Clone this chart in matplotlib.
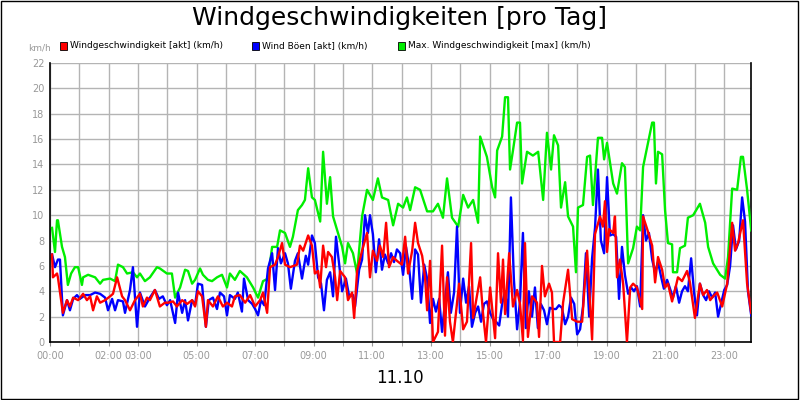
import matplotlib
matplotlib.use("Agg")
import matplotlib.pyplot as plt
from matplotlib.patches import Rectangle

g_t = [0.07,0.17,0.24,0.27,0.41,0.51,0.61,0.72,0.85,0.96,1.09,1.13,1.30,1.54,1.71,1.81,2.05,2.22,2.32,2.49,2.63,2.83,2.97,3.07,3.24,3.41,3.65,3.75,3.99,4.16,4.27,4.44,4.61,4.71,4.85,4.95,5.12,5.22,5.39,5.53,5.70,5.87,6.04,6.14,6.31,6.48,6.72,6.93,7.10,7.27,7.44,7.58,7.75,7.85,8.02,8.19,8.29,8.46,8.60,8.70,8.81,8.94,9.04,9.22,9.32,9.45,9.56,9.66,9.83,9.97,10.07,10.17,10.34,10.48,10.65,10.82,11.02,11.19,11.33,11.54,11.71,11.88,12.05,12.18,12.29,12.46,12.63,12.87,13.07,13.24,13.41,13.55,13.72,13.93,14.10,14.27,14.44,14.61,14.68,14.91,15.09,15.19,15.26,15.43,15.53,15.63,15.70,15.80,15.94,16.04,16.11,16.28,16.48,16.66,16.83,16.96,17.10,17.20,17.34,17.44,17.58,17.68,17.85,17.95,18.02,18.19,18.33,18.43,18.53,18.70,18.84,18.91,19.01,19.22,19.35,19.52,19.62,19.73,19.90,20.03,20.14,20.24,20.38,20.55,20.61,20.68,20.75,20.89,20.99,21.09,21.23,21.26,21.40,21.50,21.67,21.77,21.95,22.18,22.36,22.46,22.63,22.87,23.04,23.14,23.28,23.45,23.58,23.65,23.79,23.93]
g_v = [9.0,7.1,9.6,9.6,7.5,6.7,4.5,5.4,5.9,5.9,4.5,5.1,5.3,5.1,4.6,4.9,5.0,4.8,6.1,5.9,5.4,5.5,5.1,5.4,4.8,5.1,5.9,5.8,5.4,5.4,3.5,4.3,5.7,5.6,4.6,4.9,5.8,5.3,4.9,4.8,5.1,5.3,4.3,5.4,4.9,5.6,5.1,4.3,3.5,4.8,5.0,7.5,7.5,8.8,8.6,7.5,8.3,10.4,10.8,11.2,13.7,11.4,11.2,9.5,15.0,10.9,13.0,9.9,8.6,7.5,6.2,7.8,7.0,5.4,9.9,12.0,11.2,12.9,11.4,11.2,9.2,10.9,10.6,11.4,10.4,12.2,12.0,10.3,10.3,10.9,9.8,12.9,9.8,9.1,11.6,10.6,11.2,9.4,16.2,14.6,12.2,11.4,15.1,16.2,19.3,19.3,13.6,15.1,17.3,17.3,12.5,15.0,14.7,15.0,11.2,16.5,13.6,16.3,15.5,10.6,12.6,9.9,9.1,5.5,10.6,10.8,14.6,14.7,10.8,16.1,16.1,14.4,15.7,12.5,11.7,14.1,13.8,6.2,7.4,9.1,8.8,13.8,15.4,17.3,17.3,12.5,15.0,14.8,10.4,7.8,7.7,5.5,5.5,7.4,7.6,9.8,10.0,10.9,9.4,7.5,6.2,5.3,5.0,6.7,12.1,12.0,14.6,14.6,12.0,8.8]

r_t = [0.07,0.10,0.24,0.27,0.44,0.58,0.68,0.79,0.96,1.13,1.26,1.37,1.47,1.60,1.71,1.88,2.05,2.15,2.29,2.46,2.56,2.73,2.90,3.07,3.17,3.31,3.41,3.58,3.75,3.92,4.03,4.20,4.33,4.51,4.68,4.85,4.95,5.05,5.19,5.32,5.39,5.56,5.73,5.90,6.04,6.21,6.31,6.48,6.66,6.83,7.00,7.17,7.27,7.41,7.51,7.68,7.78,7.92,8.02,8.19,8.43,8.53,8.64,8.81,8.94,9.04,9.15,9.22,9.32,9.42,9.49,9.62,9.73,9.80,9.90,10.07,10.17,10.31,10.38,10.48,10.65,10.82,10.92,11.02,11.16,11.26,11.37,11.47,11.57,11.71,11.84,12.01,12.12,12.22,12.36,12.46,12.56,12.70,12.80,12.87,12.97,13.07,13.24,13.38,13.48,13.55,13.65,13.75,13.96,14.10,14.23,14.37,14.44,14.68,14.78,14.88,15.02,15.19,15.29,15.39,15.46,15.53,15.67,15.80,15.94,16.04,16.14,16.21,16.31,16.45,16.62,16.69,16.79,16.89,17.03,17.13,17.20,17.41,17.51,17.68,17.82,17.99,18.16,18.33,18.50,18.60,18.77,18.87,18.94,19.01,19.08,19.22,19.28,19.35,19.45,19.56,19.69,19.80,19.90,20.03,20.21,20.24,20.38,20.55,20.65,20.75,20.89,20.99,21.09,21.23,21.33,21.43,21.57,21.74,21.84,22.01,22.18,22.29,22.42,22.53,22.63,22.77,22.94,23.11,23.28,23.38,23.48,23.65,23.79,23.93]
r_v = [6.9,5.1,5.4,5.1,2.3,3.3,2.8,3.5,3.3,3.8,3.3,3.6,2.5,3.6,3.1,3.3,3.6,3.8,5.1,3.6,3.3,2.5,3.3,3.8,2.8,3.5,3.3,4.1,2.8,3.1,3.1,3.2,2.8,3.3,3.0,3.3,2.8,4.0,3.6,1.2,3.3,2.8,3.6,2.8,3.1,2.8,3.6,3.7,3.1,3.7,2.8,3.3,3.9,2.3,5.9,6.1,6.7,7.8,6.1,5.9,6.1,7.6,7.2,8.4,7.6,5.4,5.6,4.3,7.6,5.9,7.1,6.7,5.1,3.3,5.6,5.1,3.3,3.9,1.9,5.6,7.2,8.6,5.1,7.2,6.4,7.6,6.7,9.4,5.9,6.7,6.4,6.1,8.3,5.4,7.2,9.4,7.8,6.8,5.1,2.5,6.4,0.0,0.8,7.6,0.5,5.1,1.6,0.0,4.6,1.0,1.6,7.8,1.9,5.1,2.2,0.0,4.3,0.3,7.0,3.1,6.5,2.2,7.0,2.8,4.1,3.0,0.1,7.8,0.4,3.6,3.1,0.4,6.0,3.6,4.6,3.9,0.0,0.0,3.1,5.7,1.8,1.6,1.6,7.2,0.2,8.5,9.9,9.1,11.1,7.1,8.9,8.6,9.9,5.1,6.5,4.6,0.0,4.3,4.6,4.3,2.6,9.9,8.9,7.6,4.7,6.7,5.7,4.3,4.6,3.2,4.1,5.1,4.8,5.6,4.7,1.9,4.6,3.7,4.1,3.3,3.6,3.9,2.8,4.6,9.4,7.2,7.8,9.6,4.6,2.3]

b_t = [0.07,0.17,0.27,0.34,0.44,0.58,0.68,0.79,0.92,1.02,1.20,1.37,1.54,1.71,1.88,1.98,2.12,2.22,2.32,2.49,2.56,2.73,2.83,2.97,3.07,3.24,3.41,3.58,3.72,3.85,3.99,4.10,4.27,4.37,4.51,4.61,4.71,4.85,4.95,5.05,5.19,5.32,5.42,5.56,5.70,5.80,5.94,6.04,6.14,6.31,6.41,6.55,6.62,6.76,6.90,7.00,7.10,7.20,7.31,7.44,7.58,7.68,7.78,7.88,8.02,8.12,8.22,8.36,8.46,8.60,8.73,8.81,8.94,9.04,9.15,9.25,9.35,9.45,9.56,9.66,9.76,9.87,9.97,10.10,10.21,10.34,10.41,10.55,10.65,10.75,10.85,10.92,11.02,11.12,11.23,11.33,11.43,11.54,11.64,11.74,11.84,11.95,12.05,12.15,12.25,12.36,12.46,12.56,12.66,12.77,12.87,12.97,13.07,13.17,13.28,13.38,13.48,13.58,13.68,13.79,13.89,13.99,14.10,14.20,14.30,14.40,14.51,14.61,14.71,14.81,14.91,15.02,15.12,15.22,15.33,15.43,15.53,15.63,15.73,15.83,15.94,16.04,16.14,16.24,16.34,16.45,16.55,16.65,16.75,16.86,16.96,17.06,17.16,17.27,17.37,17.47,17.58,17.68,17.78,17.89,17.99,18.09,18.19,18.29,18.40,18.50,18.60,18.70,18.80,18.91,19.01,19.11,19.22,19.32,19.42,19.52,19.62,19.73,19.83,19.93,20.03,20.14,20.24,20.34,20.44,20.55,20.65,20.75,20.85,20.95,21.06,21.16,21.26,21.36,21.47,21.57,21.67,21.77,21.88,21.98,22.08,22.18,22.29,22.39,22.49,22.60,22.70,22.80,22.90,23.01,23.11,23.21,23.31,23.41,23.52,23.62,23.72,23.82,23.93]
b_v = [6.9,5.9,6.5,6.5,2.1,3.3,2.5,3.4,3.7,3.4,3.7,3.7,3.9,3.8,3.5,2.5,3.4,2.5,3.3,3.2,2.3,4.1,5.9,1.2,3.9,2.8,3.5,4.1,3.4,3.6,2.9,3.3,1.5,3.9,2.3,3.3,1.7,3.3,2.9,4.6,4.5,1.2,3.3,3.5,2.6,3.9,3.6,2.1,3.7,3.4,3.9,2.4,5.0,3.3,3.0,2.6,2.1,3.3,2.9,5.8,7.0,4.1,7.4,6.2,7.0,6.2,4.2,6.4,7.0,5.0,6.8,6.1,8.4,7.8,5.1,4.6,2.5,4.9,5.5,3.6,8.3,6.1,4.0,5.0,3.6,3.7,2.8,5.7,6.5,10.0,8.6,10.0,8.5,5.5,8.1,5.7,6.9,6.2,7.0,6.3,7.3,7.0,5.3,7.5,6.0,3.4,7.3,6.9,3.1,6.1,5.0,1.5,3.4,2.4,3.4,0.8,3.2,5.5,2.3,3.9,9.1,2.3,5.0,3.1,4.4,1.2,2.3,2.8,1.6,3.0,3.2,2.3,1.8,1.6,1.3,3.0,4.0,2.0,11.4,5.0,1.0,3.2,8.6,1.1,4.0,2.0,4.3,1.1,3.0,2.5,1.4,2.7,2.6,2.6,2.9,2.7,1.4,2.0,3.5,3.0,0.6,1.0,2.8,7.0,2.0,6.6,9.0,13.6,8.0,7.0,13.0,8.4,8.5,8.3,3.4,7.5,5.3,3.8,4.3,4.0,4.4,2.8,10.0,8.0,8.6,6.5,5.5,6.3,5.2,4.2,4.9,4.2,3.5,4.4,3.1,4.0,4.4,4.0,6.6,3.9,2.1,4.6,3.7,3.3,4.0,3.5,3.9,2.0,3.0,4.1,4.5,6.0,9.2,7.3,8.0,11.4,9.5,4.0,2.1]

tick_hours = [0, 2, 3, 5, 7, 9, 11, 13, 15, 17, 19, 21, 23]
tick_labels = ["00:00", "02:00", "03:00", "05:00", "07:00", "09:00", "11:00",
               "13:00", "15:00", "17:00", "19:00", "21:00", "23:00"]
legend_labels = ["Windgeschwindigkeit [akt] (km/h)", "Wind Böen [akt] (km/h)",
                 "Max. Windgeschwindigkeit [max] (km/h)"]
colors = ["#ff0000", "#0000ff", "#00ee00"]

fig = plt.figure(figsize=(8, 4), dpi=100)
fig.patch.set_facecolor("white")
fig.add_artist(Rectangle((0.001, 0.002), 0.997, 0.996, transform=fig.transFigure,
                         fill=False, edgecolor="black", linewidth=1))
ax = fig.add_axes([0.0625, 0.145, 0.8765, 0.6975])
ax.plot(g_t, g_v, color=colors[2], lw=1.7, zorder=3)
ax.plot(b_t, b_v, color=colors[1], lw=1.7, zorder=4)
ax.plot(r_t, r_v, color=colors[0], lw=1.7, zorder=5)
ax.set_xlim(0, 23.93)
ax.set_ylim(0, 22)
ax.set_yticks(range(0, 23, 2))
ax.set_xticks(range(0, 24), minor=True)
ax.set_xticks(tick_hours)
ax.set_xticklabels(tick_labels)
ax.grid(True, which="both", color="#b4b4b4", lw=1)
ax.grid(True, axis="y", color="#b4b4b4", lw=1)
ax.set_axisbelow(True)
ax.tick_params(axis="both", which="both", labelsize=7, colors="#999999", length=3)
ax.tick_params(axis="y", length=0, pad=4)
for s in ["left", "bottom", "right"]:
    ax.spines[s].set_color("black")
    ax.spines[s].set_linewidth(1.2)
ax.spines["top"].set_visible(False)

fig.text(0.5, 0.955, "Windgeschwindigkeiten [pro Tag]", ha="center", va="center", fontsize=18)
fig.text(0.035, 0.88, "km/h", fontsize=6.5, color="#999999", va="center")
fig.text(0.5, 0.055, "11.10", ha="center", va="center", fontsize=12)
leg_x = [0.075, 0.315, 0.497]
for x, c, lab in zip(leg_x, colors, legend_labels):
    fig.add_artist(Rectangle((x, 0.876), 0.009, 0.018, transform=fig.transFigure,
                             facecolor=c, edgecolor="black", lw=0.6))
    fig.text(x + 0.013, 0.885, lab, fontsize=6.5, va="center")

fig.savefig("out.png", dpi=100)
